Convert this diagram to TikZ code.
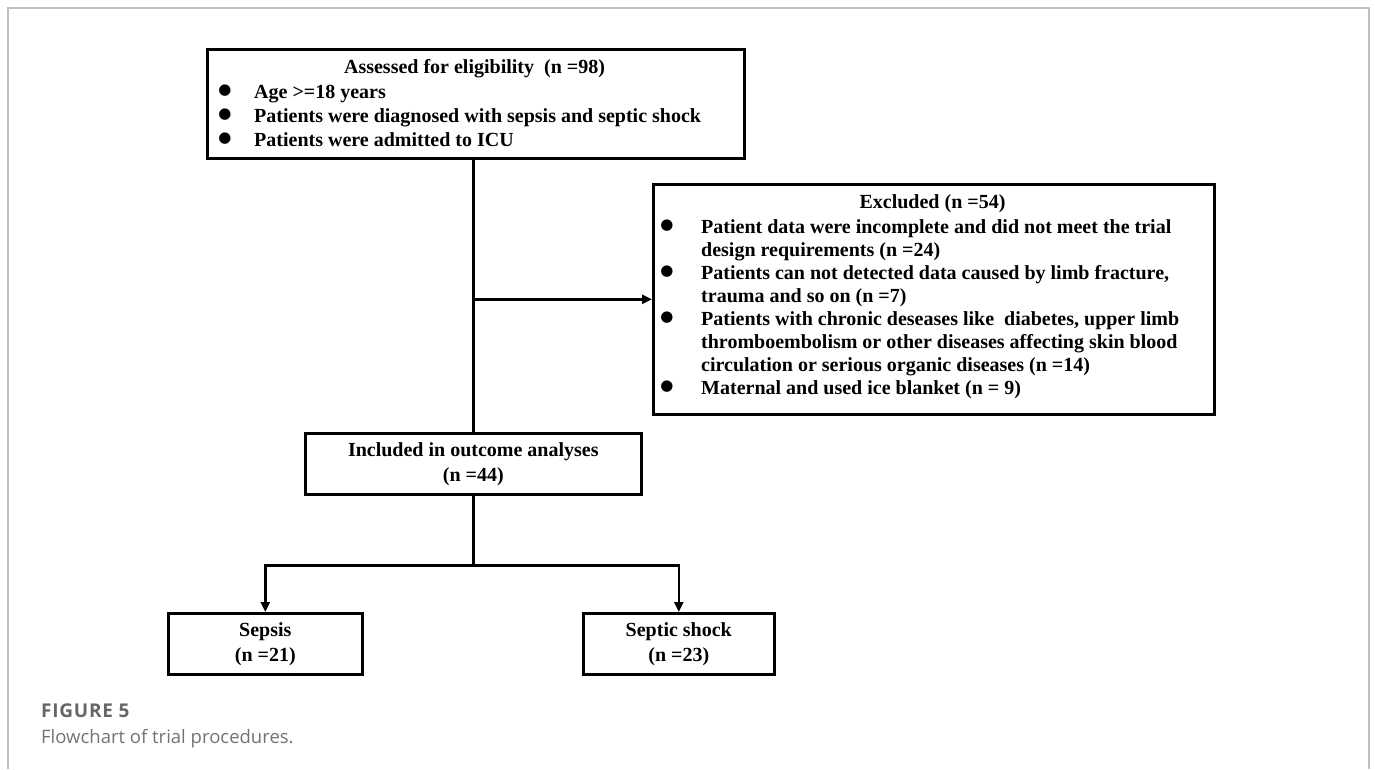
\documentclass[tikz,border=0pt]{standalone}
\usepackage{fontspec}
\setmainfont{Liberation Serif}
\newfontfamily\capfont{Open Sans}
\newfontfamily\capbffont[LetterSpace=4]{Open Sans Bold}
\newfontfamily\bulfont{DejaVu Sans}
\usetikzlibrary{arrows.meta}
\begin{document}
\begin{tikzpicture}[x=1pt,y=-1pt,
  boxnode/.style={draw=black, line width=2.6pt, rectangle, inner sep=0pt, anchor=north west,
    align=center, font=\bfseries\fontsize{20}{25}\selectfont},
  txt/.style={inner sep=0pt, anchor=base west, font=\bfseries\fontsize{20}{24}\selectfont},
  ttl/.style={inner sep=0pt, anchor=base, font=\bfseries\fontsize{20}{24}\selectfont},
  bul/.style={inner sep=0pt, anchor=center, font=\bulfont\fontsize{15}{15}\selectfont},
  conn/.style={draw=black, line width=2.6pt},
  arr/.style={conn, -{Triangle[length=10pt,width=9pt]}},
  frame/.style={draw=black!25, line width=1.4pt},
  capbold/.style={inner sep=0pt, anchor=base west, text=black!60, font=\capbffont\fontsize{19}{20}\selectfont},
  captxt/.style={inner sep=0pt, anchor=base west, text=black!55, font=\capfont\fontsize{18.5}{20}\selectfont}
]
\useasboundingbox (0,0) rectangle (1375,769);
% outer frame
\draw[frame] (8,769) -- (8,8) -- (1369,8) -- (1369,769);

% boxes
\node[boxnode, minimum width=537pt, minimum height=109pt] (top) at (206,48) {};
\node[boxnode, minimum width=561pt, minimum height=230pt] (excl) at (652,183) {};
\node[boxnode, minimum width=336pt, minimum height=61pt] (incl) at (304,432)
  {Included in outcome analyses\\(n =44)};
\node[boxnode, minimum width=194pt, minimum height=61pt] (seps) at (167,612)
  {Sepsis\\(n =21)};
\node[boxnode, minimum width=191pt, minimum height=61pt] (shock) at (582,612)
  {Septic shock\\(n =23)};

% top box text
\node[ttl] (t0) at (474.5,73) {Assessed for eligibility\ \ (n =98)};
\node[bul] (b1) at (225,91) {●};
\node[txt] (t1) at (254,98) {Age >=18 years};
\node[bul] (b2) at (225,115) {●};
\node[txt] (t2) at (254,122) {Patients were diagnosed with sepsis and septic shock};
\node[bul] (b3) at (225,139) {●};
\node[txt] (t3) at (254,146) {Patients were admitted to ICU};

% excluded box text
\node[ttl] (e0) at (932.5,208) {Excluded (n =54)};
\node[bul] (eb1) at (667,226) {●};
\node[txt] (e1) at (701,233) {Patient data were incomplete and did not meet the trial};
\node[txt] (e2) at (701,256) {design requirements (n =24)};
\node[bul] (eb2) at (667,272) {●};
\node[txt] (e3) at (701,279) {Patients can not detected data caused by limb fracture,};
\node[txt] (e4) at (701,302) {trauma and so on (n =7)};
\node[bul] (eb3) at (667,318) {●};
\node[txt] (e5) at (701,325) {Patients with chronic deseases like\ \ diabetes, upper limb};
\node[txt] (e6) at (701,348) {thromboembolism or other diseases affecting skin blood};
\node[txt] (e7) at (701,371) {circulation or serious organic diseases (n =14)};
\node[bul] (eb4) at (667,387) {●};
\node[txt] (e8) at (701,394) {Maternal and used ice blanket (n = 9)};

% connectors
\draw[conn] (top.south -| incl.north) -- (incl.north);
\draw[arr] (excl.west -| incl.north) -- (excl.west);
\draw[conn] (incl.south) -- ++(0,70) coordinate (split);
\draw[arr] (split) -| (seps.north);
\draw[arr] (split) -| (shock.north);

% caption
\node[capbold] (fig) at (41,717) {FIGURE 5};
\node[captxt] (cap) at (41,743) {Flowchart of trial procedures.};
\end{tikzpicture}
\end{document}
